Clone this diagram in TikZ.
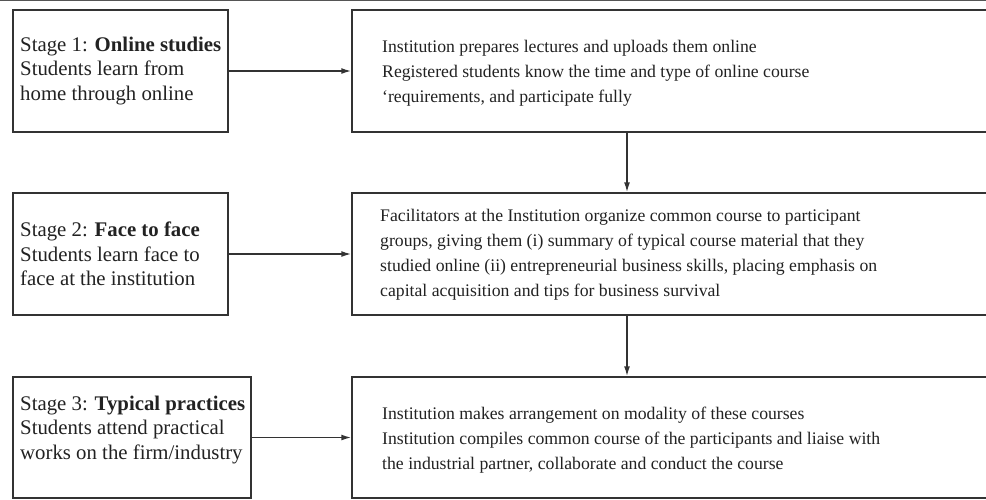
\documentclass[tikz,border=0pt]{standalone}
\usepackage{fontspec}
\setmainfont{Liberation Serif}
\usetikzlibrary{arrows.meta}
\definecolor{linec}{HTML}{333333}
\definecolor{topc}{HTML}{555555}
\definecolor{textc}{HTML}{222222}
\tikzset{
  boxnode/.style={draw=linec, line width=1.5pt, rectangle, inner sep=0pt, fill=white},
  lefttext/.style={anchor=west, inner sep=0pt, align=left, text=textc, font=\fontsize{20.8}{24.5}\selectfont},
  righttext/.style={anchor=west, inner sep=0pt, align=left, text=textc, font=\fontsize{17.7}{25}\selectfont},
  conn/.style={draw=linec, line width=1.5pt, -{Latex[length=10pt,width=6pt]}}
}
\begin{document}
\begin{tikzpicture}[x=1pt,y=-1pt]
\useasboundingbox (0,0) rectangle (986,499);
\clip (0,0) rectangle (986,499);
\draw[topc, line width=1.5pt] (0,0.5) -- (986,0.5);
% boxes
\node[boxnode, minimum width=215pt, minimum height=122pt] (b1l) at (120.5,71) {};
\node[boxnode, minimum width=215pt, minimum height=122pt] (b2l) at (120.5,254) {};
\node[boxnode, minimum width=238pt, minimum height=121pt] (b3l) at (132,437.5) {};
\node[boxnode, minimum width=648pt, minimum height=122pt] (b1r) at (676,71) {};
\node[boxnode, minimum width=648pt, minimum height=122pt] (b2r) at (676,254) {};
\node[boxnode, minimum width=648pt, minimum height=121pt] (b3r) at (676,437.5) {};
% texts
\node[lefttext] (t1l) at (20,71) {Stage 1: \textbf{Online studies}\\Students learn from\\home through online};
\node[lefttext] (t2l) at (20,254) {Stage 2: \textbf{Face to face}\\Students learn face to\\face at the institution};
\node[lefttext] (t3l) at (20,430) {Stage 3: \textbf{Typical practices}\\Students attend practical\\works on the firm/industry};
\node[righttext] (t1r) at (382,73) {Institution prepares lectures and uploads them online\\Registered students know the time and type of online course\\`requirements, and participate fully};
\node[righttext] (t2r) at (380,254.5) {Facilitators at the Institution organize common course to participant\\groups, giving them (i) summary of typical course material that they\\studied online (ii) entrepreneurial business skills, placing emphasis on\\capital acquisition and tips for business survival};
\node[righttext] (t3r) at (382,440) {Institution makes arrangement on modality of these courses\\Institution compiles common course of the participants and liaise with\\the industrial partner, collaborate and conduct the course};
% connectors
\coordinate (ax) at (627,0);
\draw[conn] (b1l.east) -- (b1r.west);
\draw[conn] (b2l.east) -- (b2r.west);
\draw[conn] (b3l.east) -- (b3r.west);
\draw[conn] (b1r.south -| ax) -- (b2r.north -| ax);
\draw[conn] (b2r.south -| ax) -- (b3r.north -| ax);
\end{tikzpicture}
\end{document}
